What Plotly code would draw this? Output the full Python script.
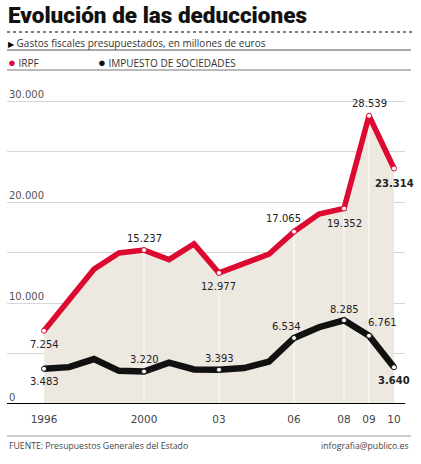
import plotly.graph_objects as go

# Gastos fiscales presupuestados (millones de euros)
years = list(range(1996, 2011))
irpf = [7254, 10300, 13350, 14950, 15237, 14300, 15850, 12977,
        13950, 14850, 17065, 18800, 19352, 28539, 23314]
sociedades = [3483, 3650, 4450, 3280, 3220, 4100, 3420, 3393,
              3560, 4200, 6534, 7600, 8285, 6761, 3640]

labeled_years = [1996, 2000, 2003, 2006, 2008, 2009, 2010]
tick_years = [1996, 2000, 2003, 2006, 2008, 2009, 2010]
tick_text = ['1996', '2000', '03', '06', '08', '09', '10']
y_ticks = [0, 5000, 10000, 15000, 20000, 25000, 30000]
y_labeled = [0, 10000, 20000, 30000]

RED = '#dc0a30'
BLACK = '#111111'
FILL = '#ede9e0'

W, H = 421, 464
L, R, T, B = 7, 16, 80, 60


def px(x):
    return (x - L) / (W - L - R)


def py(y):
    return (H - B - y) / (H - T - B)


def fmt(v):
    return f"{v:,}".replace(',', '.')


fig = go.Figure()

# beige area under IRPF
fig.add_trace(go.Scatter(
    x=years, y=irpf, mode='lines', line=dict(width=0, color=FILL),
    fill='tozeroy', fillcolor=FILL, hoverinfo='skip', showlegend=False,
))

# white verticals at the labeled years
vx, vy = [], []
for yr in labeled_years[1:-1]:
    v = irpf[years.index(yr)]
    vx += [yr, yr, None]
    vy += [0, v, None]
fig.add_trace(go.Scatter(
    x=vx, y=vy, mode='lines', line=dict(color='white', width=1),
    hoverinfo='skip', showlegend=False,
))

for vals, color, width in [(irpf, RED, 5.5), (sociedades, BLACK, 6.5)]:
    fig.add_trace(go.Scatter(
        x=years, y=vals, mode='lines',
        line=dict(color=color, width=width),
        showlegend=False,
    ))
    fig.add_trace(go.Scatter(
        x=labeled_years, y=[vals[years.index(yr)] for yr in labeled_years],
        mode='markers',
        marker=dict(size=5, color='white', line=dict(color=color, width=1)),
        hoverinfo='skip', showlegend=False,
    ))

# data labels
irpf_offsets = {1996: (0, -14), 2000: (0, 12), 2003: (-1, -14), 2006: (-11, 13),
                2008: (0, -15), 2009: (0, 12), 2010: (0, -15)}
soc_offsets = {1996: (0, -13), 2000: (0, 12), 2003: (0, 11), 2006: (-8, 12),
               2008: (0, 11), 2009: (13, 13), 2010: (0, -13)}
for vals, offs in [(irpf, irpf_offsets), (sociedades, soc_offsets)]:
    for yr in labeled_years:
        v = vals[years.index(yr)]
        dx, dy = offs[yr]
        last = yr == years[-1]
        fig.add_annotation(
            x=yr, y=v, text=f"<b>{fmt(v)}</b>" if last else fmt(v),
            showarrow=False, xshift=dx, yshift=dy,
            font=dict(family='DejaVu Sans', size=10, color='#222'),
        )

# y labels sit above their gridlines at the left edge
for v in y_labeled:
    fig.add_annotation(
        x=0, y=v, xref='paper', yref='y', xanchor='left', yanchor='bottom',
        text=fmt(v), showarrow=False, yshift=-1,
        font=dict(family='DejaVu Sans', size=10, color='#555'),
    )

# header texts
fig.add_annotation(
    x=px(6), y=py(15), xref='paper', yref='paper', xanchor='left', yanchor='middle',
    text='Evolución de las deducciones', showarrow=False,
    font=dict(family='Roboto', size=22.5, color='#111', weight=900),
)
fig.add_annotation(
    x=px(6), y=py(43), xref='paper', yref='paper', xanchor='left', yanchor='middle',
    text="<span style='font-size:8px;color:#000'>▶</span> Gastos fiscales presupuestados, en millones de euros",
    showarrow=False,
    font=dict(family='Open Sans', size=10, color='#333'),
)
for xdot, color, label in [(6, RED, 'IRPF'), (96, BLACK, 'IMPUESTO DE SOCIEDADES')]:
    fig.add_annotation(
        x=px(xdot), y=py(62), xref='paper', yref='paper', xanchor='left', yanchor='middle',
        text=f"<span style='color:{color};font-size:13px'>●</span> {label}", showarrow=False,
        font=dict(family='Open Sans', size=10, color='#333'),
    )
fig.add_annotation(
    x=px(7), y=py(446), xref='paper', yref='paper', xanchor='left', yanchor='middle',
    text='FUENTE: Presupuestos Generales del Estado', showarrow=False,
    font=dict(family='Open Sans', size=8.7, color='#444'),
)
fig.add_annotation(
    x=px(411), y=py(446), xref='paper', yref='paper', xanchor='right', yanchor='middle',
    text='infografia@publico.es', showarrow=False,
    font=dict(family='Open Sans', size=8.7, color='#444'),
)

# rules
rules = [(32, 414, '#555', 1.5, 'dot'), (50, 411, '#555', 1, 'solid'),
         (70, 411, '#777', 1, 'solid'), (436, 411, '#999', 1, 'solid')]
for yy, x1, color, wd, dash in rules:
    fig.add_shape(type='line', xref='paper', yref='paper',
                  x0=px(7), x1=px(x1), y0=py(yy), y1=py(yy),
                  line=dict(color=color, width=wd, dash=dash))
fig.add_shape(type='line', xref='paper', yref='y', x0=0, x1=1, y0=0, y1=0,
              line=dict(color='black', width=2), layer='above')

fig.update_layout(
    width=W, height=H, autosize=False,
    margin=dict(l=L, r=R, t=T, b=B),
    paper_bgcolor='white', plot_bgcolor='white',
    showlegend=False,
    xaxis=dict(
        range=[1994.52, 2010.44], tickvals=tick_years, ticktext=tick_text,
        showgrid=False, zeroline=False, showline=False, ticks='',
        ticklabelstandoff=7,
        tickfont=dict(family='DejaVu Sans', size=10.5, color='#444'),
        fixedrange=True,
    ),
    yaxis=dict(
        range=[0, 32079], tickvals=y_ticks, showticklabels=False,
        showgrid=True, gridcolor='#d6d6d6', gridwidth=1, zeroline=False,
        ticks='', fixedrange=True,
    ),
)

fig.write_html('out.html', config={'displayModeBar': False},
               post_script="document.body.style.margin='0';")
